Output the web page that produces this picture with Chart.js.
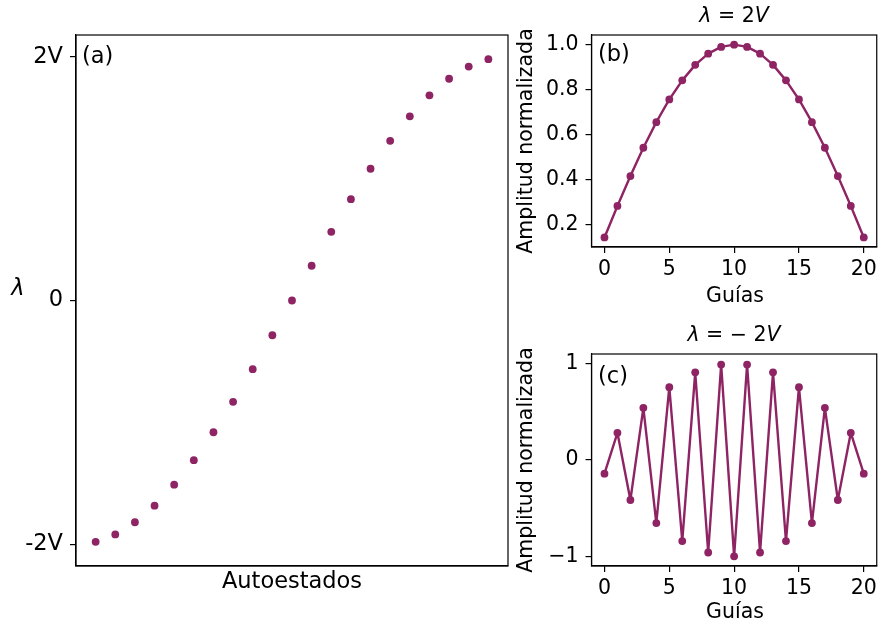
<!DOCTYPE html>
<html><head><meta charset="utf-8">
<script src="https://cdn.jsdelivr.net/npm/chart.js@4.4.0/dist/chart.umd.min.js"></script>
<style>
html,body{margin:0;padding:0;background:#fff;}
#wrap{position:relative;width:881px;height:626px;overflow:hidden;background:#fff;}
canvas{position:absolute;left:0;top:0;}
</style></head><body>
<div id="wrap">
<canvas id="ca" width="881" height="626"></canvas>
<canvas id="cb" width="881" height="626"></canvas>
<canvas id="cc" width="881" height="626"></canvas>
</div>
<script>
// ---- data ----
const autoestados = [0,1,2,3,4,5,6,7,8,9,10,11,12,13,14,15,16,17,18,19,20];
const eigenvalues = [-1.980,-1.919,-1.819,-1.683,-1.511,-1.310,-1.081,-0.831,-0.563,-0.285,0.000,0.285,0.563,0.831,1.081,1.310,1.511,1.683,1.819,1.919,1.980];
const guias = [0,1,2,3,4,5,6,7,8,9,10,11,12,13,14,15,16,17,18,19,20];
const amplitudPos = [0.142,0.282,0.415,0.541,0.655,0.756,0.841,0.910,0.960,0.990,1.000,0.990,0.960,0.910,0.841,0.756,0.655,0.541,0.415,0.282,0.142];
const amplitudNeg = [-0.142,0.282,-0.415,0.541,-0.655,0.756,-0.841,0.910,-0.960,0.990,-1.000,0.990,-0.960,0.910,-0.841,0.756,-0.655,0.541,-0.415,0.282,-0.142];
const ticksA = [-2,0,2];
const tickLabelsA = ['-2V','0','2V'];
const ticksGuias = [0,5,10,15,20];
const ticksB = [0.2,0.4,0.6,0.8,1.0];
const tickLabelsB = ['0.2','0.4','0.6','0.8','1.0'];
const ticksC = [-1,0,1];
const tickLabelsC = ['\u22121','0','1'];

const COLOR = '#8e2463';
const FONT = 'DejaVu Sans';
Chart.defaults.font.family = FONT;
Chart.defaults.color = '#000';

const toPts = (xs, ys) => xs.map((x,i)=>({x:x, y:ys[i]}));

// plugin: axes box + free texts
const decor = {
  id:'decor',
  afterDraw(chart, args, opts){
    const {ctx, chartArea:a} = chart;
    ctx.save();
    ctx.strokeStyle = '#000'; ctx.lineWidth = 1.2;
    ctx.strokeRect(a.left, a.top, a.right-a.left, a.bottom-a.top);
    (opts.texts||[]).forEach(t=>{
      ctx.save();
      ctx.translate(t.x, t.y);
      if (t.rot) ctx.rotate(t.rot);
      ctx.textBaseline = 'middle';
      ctx.fillStyle = '#000';
      const segs = t.segs || [[t.text,false]];
      let total = 0;
      const widths = segs.map(s=>{ctx.font=(s[1]?'italic ':'')+t.size+'px "'+FONT+'"'; const w=ctx.measureText(s[0]).width; total+=w; return w;});
      let x0 = t.align==='left' ? 0 : -total/2;
      segs.forEach((s,i)=>{ctx.font=(s[1]?'italic ':'')+t.size+'px "'+FONT+'"'; ctx.textAlign='left'; ctx.fillText(s[0], x0, 0); x0+=widths[i];});
      ctx.restore();
    });
    ctx.restore();
  }
};

function yScale(min, max, ticks, labels, width, size){
  return {
    type:'linear', min:min, max:max,
    afterBuildTicks: s=>{ s.ticks = ticks.map(v=>({value:v})); },
    afterFit: s=>{ s.width = width; },
    ticks:{ font:{size:size}, color:'#000', padding:7, autoSkip:false,
      callback:(v)=>{ const i = ticks.indexOf(v); return i>=0 ? labels[i] : ''; } },
    grid:{ display:true, drawOnChartArea:false, drawTicks:true, tickLength:6, color:'#000', lineWidth:1.2 },
    border:{ display:true, color:'#000', width:1.2 }
  };
}
function xScale(showTicks, height, size){
  return {
    type:'linear', min:-1, max:21,
    afterBuildTicks: s=>{ s.ticks = showTicks ? ticksGuias.map(v=>({value:v})) : []; },
    afterFit: s=>{ s.height = height; },
    ticks:{ display:showTicks, font:{size:size}, color:'#000', padding:4, maxRotation:0, autoSkip:false,
      callback:(v)=>String(v) },
    grid:{ display:showTicks, drawOnChartArea:false, drawTicks:showTicks, tickLength:6, color:'#000', lineWidth:1.2 },
    border:{ display:true, color:'#000', width:1.2 }
  };
}
const base = { responsive:false, animation:false, devicePixelRatio:1, events:[],
  plugins:{ legend:{display:false}, tooltip:{enabled:false}, title:{display:false} } };

const SA = 22.5, SB = 20.5;

// Panel (a)
new Chart(document.getElementById('ca'), {
  type:'scatter',
  data:{ datasets:[{ data: toPts(autoestados, eigenvalues), showLine:false,
    pointRadius:3.9, pointBackgroundColor:COLOR, pointBorderWidth:0 }] },
  options:Object.assign({}, base, {
    layout:{ padding:{ left:0, top:35, right:373, bottom:0 } },
    scales:{ x:xScale(false, 60, SA), y:yScale(-2.178, 2.178, ticksA, tickLabelsA, 76, SA) },
    plugins:Object.assign({}, base.plugins, { decor:{ texts:[
      {text:'(a)', x:82, y:57, size:SA, align:'left'},
      {text:'Autoestados', x:292, y:582, size:SA},
      {segs:[['\u03bb',true]], x:18, y:289, size:SA}
    ]}})
  }),
  plugins:[decor]
});

// Panel (b)
new Chart(document.getElementById('cb'), {
  type:'scatter',
  data:{ datasets:[{ data: toPts(guias, amplitudPos), showLine:true, borderColor:COLOR, borderWidth:2.4,
    borderJoinStyle:'round', borderCapStyle:'round',
    pointRadius:3.9, pointBackgroundColor:COLOR, pointBorderWidth:0, tension:0 }] },
  options:Object.assign({}, base, {
    layout:{ padding:{ left:500, top:35, right:2, bottom:316 } },
    scales:{ x:xScale(true, 63, SB), y:yScale(0.0994, 1.0429, ticksB, tickLabelsB, 91.5, SB) },
    plugins:Object.assign({}, base.plugins, { decor:{ texts:[
      {text:'(b)', x:598, y:55, size:SA, align:'left'},
      {text:'Guías', x:735, y:297, size:SB},
      {text:'Amplitud normalizada', x:527, y:141, size:SB, rot:-Math.PI/2},
      {segs:[['\u03bb',true],[' = 2',false],['V',true]], x:734, y:17, size:SB}
    ]}})
  }),
  plugins:[decor]
});

// Panel (c)
new Chart(document.getElementById('cc'), {
  type:'scatter',
  data:{ datasets:[{ data: toPts(guias, amplitudNeg), showLine:true, borderColor:COLOR, borderWidth:2.4,
    borderJoinStyle:'round', borderCapStyle:'round',
    pointRadius:3.9, pointBackgroundColor:COLOR, pointBorderWidth:0, tension:0 }] },
  options:Object.assign({}, base, {
    layout:{ padding:{ left:500, top:354, right:2, bottom:0 } },
    scales:{ x:xScale(true, 60, SB), y:yScale(-1.1, 1.1, ticksC, tickLabelsC, 91.5, SB) },
    plugins:Object.assign({}, base.plugins, { decor:{ texts:[
      {text:'(c)', x:598, y:377, size:SA, align:'left'},
      {text:'Guías', x:735, y:613, size:SB},
      {text:'Amplitud normalizada', x:527, y:460, size:SB, rot:-Math.PI/2},
      {segs:[['\u03bb',true],[' = \u2212 2',false],['V',true]], x:734, y:336, size:SB}
    ]}})
  }),
  plugins:[decor]
});
</script>
</body></html>
